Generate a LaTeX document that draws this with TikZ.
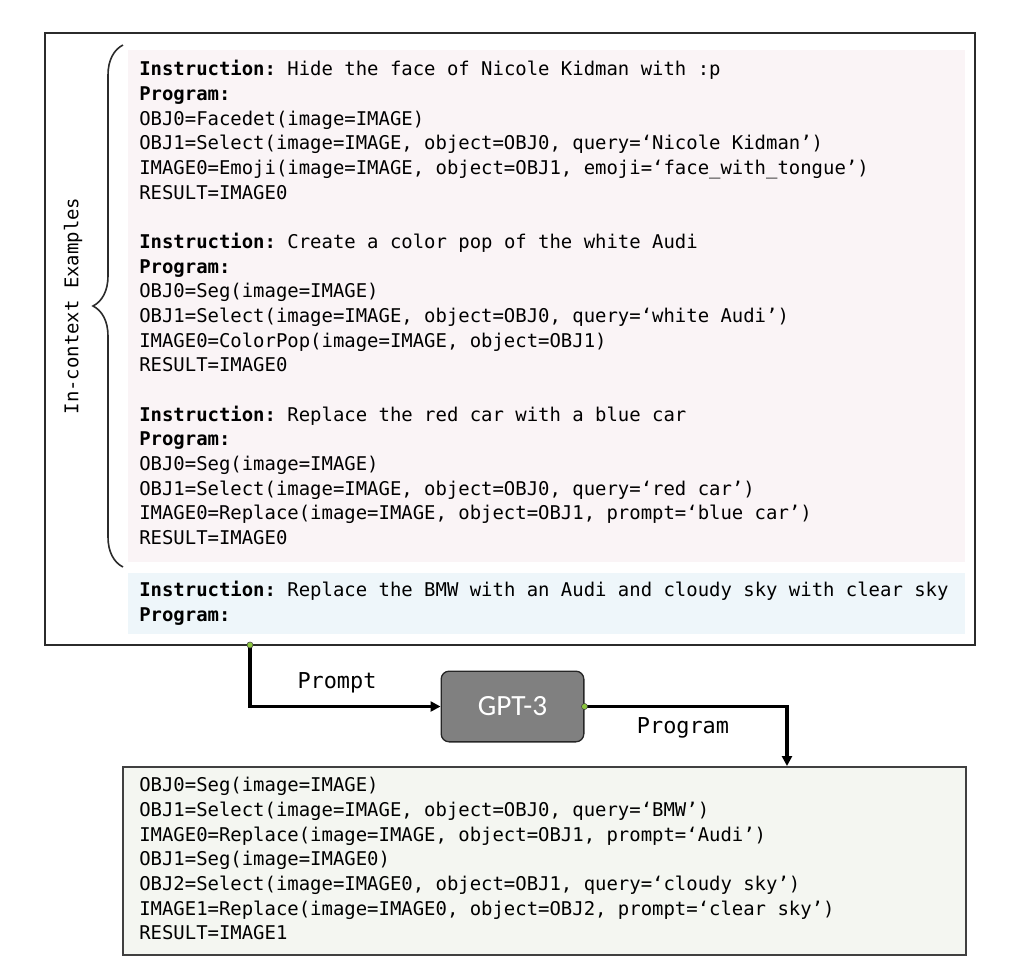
\documentclass[tikz,border=0pt]{standalone}
\usepackage{fontspec}
\setmonofont{DejaVu Sans Mono}
\newfontfamily\gptfont{Carlito}
\usepackage{xcolor}
\usepackage{tikz}
\usetikzlibrary{arrows.meta, positioning, fit, calc, decorations.pathreplacing}
\definecolor{ctxframe}{HTML}{2B2B2B}
\definecolor{pinkbg}{HTML}{FAF4F6}
\definecolor{bluebg}{HTML}{EEF6FA}
\definecolor{outbg}{HTML}{F4F6F1}
\definecolor{gptgray}{HTML}{808080}
\definecolor{tapgreen}{HTML}{8CC63F}
\newcommand{\topline}{\rule{0pt}{12pt}}
\newcommand{\kw}[1]{\textbf{#1}}
\tikzset{
  code/.style={font=\ttfamily\fontsize{14.2}{18.5}\selectfont, anchor=north west,
    align=left, inner sep=0pt, text=black},
  lbl/.style={font=\ttfamily\fontsize{16.4}{20}\selectfont, anchor=base, inner sep=0pt},
  flow/.style={line width=2.3pt, -{Triangle[length=7.5pt, width=7.5pt]}},
  tapdot/.style={fill=tapgreen, draw=black!75, line width=0.4pt}
}

\begin{document}
\begin{tikzpicture}[x=0.75pt, y=-0.75pt]
\useasboundingbox (0,0) rectangle (1014,968);
% context box with the examples
\fill[pinkbg] (128,50) rectangle (965,562);
\fill[bluebg] (128,573) rectangle (965,634);
\node (ctxbox) [draw=ctxframe, line width=1.5pt, inner sep=0pt, fit={(45,33) (975,645)}] {};
\node (ex1) [code] at (139,59.5) {\topline\kw{Instruction:} Hide the face of Nicole Kidman with :p\\
  \kw{Program:}\\
  OBJ0=Facedet(image=IMAGE)\\
  OBJ1=Select(image=IMAGE, object=OBJ0, query=‘Nicole Kidman’)\\
  IMAGE0=Emoji(image=IMAGE, object=OBJ1, emoji=‘face\_with\_tongue’)\\
  RESULT=IMAGE0};
\node (ex2) [code] at (139,232.2) {\topline\kw{Instruction:} Create a color pop of the white Audi\\
  \kw{Program:}\\
  OBJ0=Seg(image=IMAGE)\\
  OBJ1=Select(image=IMAGE, object=OBJ0, query=‘white Audi’)\\
  IMAGE0=ColorPop(image=IMAGE, object=OBJ1)\\
  RESULT=IMAGE0};
\node (ex3) [code] at (139,404.9) {\topline\kw{Instruction:} Replace the red car with a blue car\\
  \kw{Program:}\\
  OBJ0=Seg(image=IMAGE)\\
  OBJ1=Select(image=IMAGE, object=OBJ0, query=‘red car’)\\
  IMAGE0=Replace(image=IMAGE, object=OBJ1, prompt=‘blue car’)\\
  RESULT=IMAGE0};
\node (query) [code] at (139,580.7) {\topline\kw{Instruction:} Replace the BMW with an Audi and cloudy sky with clear sky\\
  \kw{Program:}};
% brace and side label
\coordinate (braceTop) at (123,45);
\coordinate (braceBot) at (123,567);
\draw[ctxframe, line width=1.2pt, decorate, decoration={brace, amplitude=22.5pt}]
  (braceBot) -- (braceTop);
\node (ctxlabel) [font=\ttfamily\fontsize{14.2}{18.5}\selectfont, rotate=90] at (73,306) {In-context Examples};
% model
\node (gpt) [fill=gptgray, draw=black!85, line width=1pt, rounded corners=6pt,
  minimum width=107pt, minimum height=53pt, text=white,
  font=\gptfont\fontsize{22}{26}\selectfont] at (512.5,706.5) {GPT-3};
% generated program
\node (outbox) [draw=black!75, fill=outbg, line width=1.5pt, inner sep=0pt, fit={(123,767) (966,955)}] {};
\node (prog) [code] at (139,775.7) {\topline OBJ0=Seg(image=IMAGE)\\
  OBJ1=Select(image=IMAGE, object=OBJ0, query=‘BMW’)\\
  IMAGE0=Replace(image=IMAGE, object=OBJ1, prompt=‘Audi’)\\
  OBJ1=Seg(image=IMAGE0)\\
  OBJ2=Select(image=IMAGE0, object=OBJ1, query=‘cloudy sky’)\\
  IMAGE1=Replace(image=IMAGE0, object=OBJ2, prompt=‘clear sky’)\\
  RESULT=IMAGE1};
% connectors
\coordinate (tap) at (250,645);
\draw[flow] (tap) |- (gpt.west);
\draw[flow] (gpt.east) -| (787,0 |- outbox.north);
\fill[tapdot] (tap) circle (2.3pt);
\fill[tapdot] (gpt.east) circle (2.3pt);
\node (promptlbl) [lbl] at (337,688) {Prompt};
\node (programlbl) [lbl] at (683,733) {Program};
\end{tikzpicture}
\end{document}
